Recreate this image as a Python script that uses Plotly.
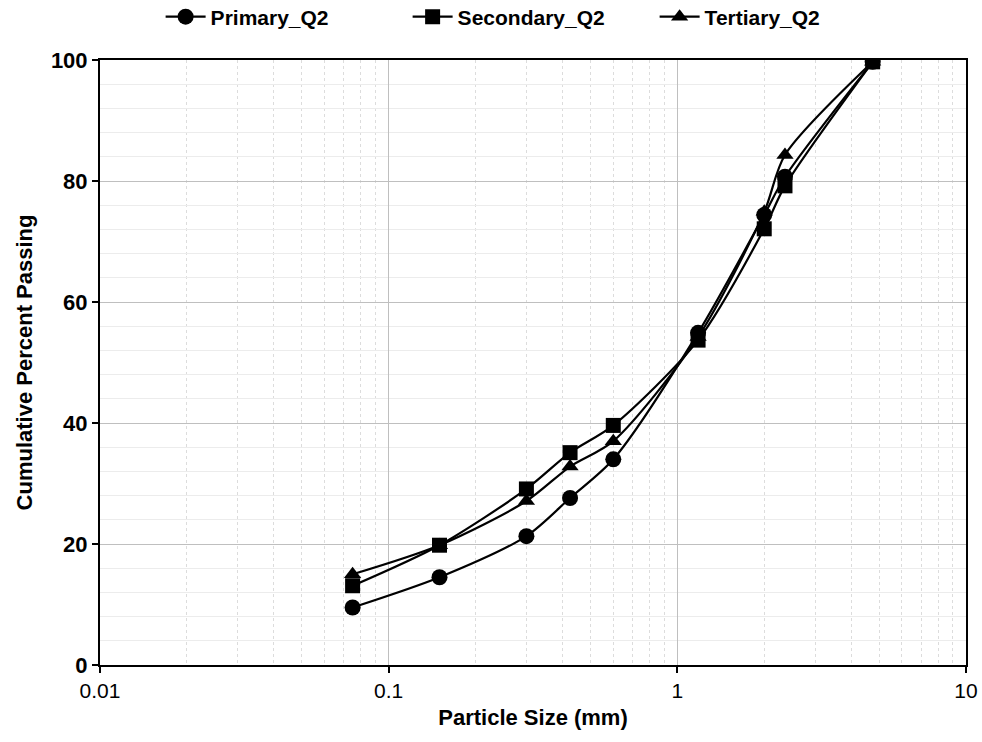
import plotly.graph_objects as go

sizes = [0.075, 0.15, 0.3, 0.425, 0.6, 1.18, 2.0, 2.36, 4.75]
primary = [9.5, 14.5, 21.3, 27.6, 34.0, 54.9, 74.4, 80.7, 99.7]
secondary = [13.1, 19.8, 29.1, 35.1, 39.6, 53.7, 72.1, 79.2, 99.7]
tertiary = [15.0, 19.8, 27.1, 32.8, 37.0, 54.2, 74.9, 84.3, 99.7]

series = [("Primary_Q2", primary, "circle"),
          ("Secondary_Q2", secondary, "square"),
          ("Tertiary_Q2", tertiary, "triangle-up")]

fig = go.Figure()
for name, vals, sym in series:
    fig.add_trace(go.Scatter(
        x=sizes, y=vals, name=name, mode="lines+markers",
        line=dict(color="black", width=2.2, shape="spline", smoothing=0.8),
        marker=dict(symbol=sym, size=15 if sym != "circle" else 16, color="black"),
    ))

font_family = "Liberation Sans, Arial, sans-serif"
fig.update_layout(
    width=982, height=742,
    margin=dict(l=100, r=16, t=60, b=77, autoexpand=False),
    paper_bgcolor="white", plot_bgcolor="white",
    font=dict(family=font_family, color="black"),
    legend=dict(orientation="h", x=0.07, xanchor="left", y=1.071, yanchor="middle",
                font=dict(size=21, family=font_family, weight="bold"),
                bgcolor="rgba(0,0,0,0)",
                itemwidth=40, entrywidth=192, entrywidthmode="pixels",
                traceorder="normal"),
    showlegend=True,
)
fig.update_xaxes(
    type="log", range=[-2, 1], automargin=False,
    tickvals=[0.01, 0.1, 1, 10], ticktext=["0.01", "0.1", "1", "10"],
    tickfont=dict(size=21), ticks="outside", ticklen=6, tickcolor="black", tickwidth=1.5,
    showline=True, linecolor="black", linewidth=2, mirror=True,
    showgrid=True, gridcolor="#bfbfbf", gridwidth=1,
    minor=dict(tickvals=[m * 10 ** e for e in (-2, -1, 0) for m in range(2, 10)],
               showgrid=True, gridcolor="#dcdcdc", griddash="dot", gridwidth=1),
    title=dict(text="<b>Particle Size (mm)</b>", font=dict(size=22), standoff=8),
    zeroline=False,
)
fig.update_yaxes(
    range=[0, 100], tickvals=[0, 20, 40, 60, 80, 100], automargin=False,
    ticktext=["<b>%d</b>" % v for v in [0, 20, 40, 60, 80, 100]],
    tickfont=dict(size=22), ticks="outside", ticklen=6, tickcolor="black", tickwidth=1.5,
    showline=True, linecolor="black", linewidth=2, mirror=True,
    showgrid=True, gridcolor="#bfbfbf", gridwidth=1,
    minor=dict(dtick=4, showgrid=True, gridcolor="#ececec", gridwidth=1),
    title=dict(text="<b>Cumulative Percent Passing</b>", font=dict(size=22), standoff=12),
    zeroline=False,
)

fig.write_html("out.html")
